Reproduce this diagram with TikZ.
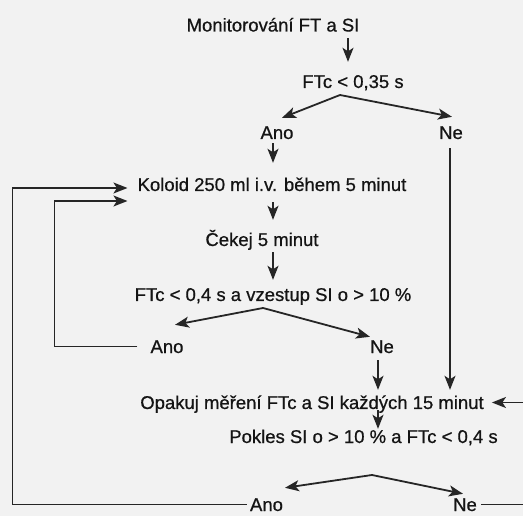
\documentclass[tikz,border=0pt]{standalone}
\usepackage{fontspec}
\setmainfont{Liberation Sans}
\newfontfamily\inkfont{Liberation Sans}[FakeBold=0.7]
\usetikzlibrary{arrows.meta, calc}
\definecolor{Ink}{HTML}{141414}
\definecolor{Wire}{HTML}{262626}
\definecolor{Paper}{HTML}{F2F2F2}

\begin{document}
\begin{tikzpicture}[
    x=1pt, y=-1pt,
    txt/.style={
        anchor=base, inner sep=0pt, text height=13pt, text depth=0pt,
        text=Ink, font=\inkfont\fontsize{18.5}{22}\selectfont
    },
    arr/.style={-{Stealth[length=14pt, width=11pt, inset=3.5pt]}, line width=1.8pt, draw=Wire}
]

% page
\useasboundingbox (0,0) rectangle (523,516);
\fill[Paper] (0,0) rectangle (523,516);
\clip (0,0) rectangle (523,516);

% =============================================
% Monitoring and first test
% =============================================
\node[txt] (mon) at (273,31.5) {Monitorování FT a SI};
\node[txt] (ftc1) at (353,88) {FTc < 0,35 s};
\node[txt] (ano1) at (277,139) {Ano};
\node[txt] (ne1) at (451,139) {Ne};

\draw[arr] ($(ftc1.north |- mon.south)+(-5,6.5)$) -- ($(ftc1.north)+(-5,-13)$);

\coordinate (split1) at ($(ftc1.base)+(-13,7)$);
\draw[arr] (split1) -- ($(ano1.north)+(5,-8)$);
\draw[arr] (split1) -- ($(ne1.north)+(1,-9)$);

% =============================================
% Colloid bolus and second test
% =============================================
\node[txt] (kol) at (272,191) {Koloid 250 ml i.v. během 5 minut};
\node[txt] (cek) at (262,246) {Čekej 5 minut};
\node[txt] (ftc2) at (273,301) {FTc < 0,4 s a vzestup SI o > 10 \%};
\node[txt] (ano2) at (167,353) {Ano};
\node[txt] (ne2) at (382,353) {Ne};

\draw[arr] ($(kol.north |- ano1.south)+(1,4)$) -- ($(kol.north)+(1,-15)$);
\draw[arr] ($(kol.south)+(1,11)$) -- ($(kol.south |- cek.north)+(1,-13)$);
\draw[arr] ($(ftc2.north |- cek.south)+(0,6)$) -- ($(ftc2.north)+(0,-8)$);

\coordinate (split2) at ($(ftc2.base)+(-10,7)$);
\draw[arr] (split2) -- ($(ano2.north)+(8,-15)$);
\draw[arr] (split2) -- ($(ne2.north)+(-12,-3)$);

% Ano -> back to colloid (inner loop)
\draw[arr] ($(ano2.west)+(-13,0)$) -| ($(kol.west)+(-83,16.5)$)
    -- ($(kol.west)+(-10,16.5)$);

% =============================================
% Repeated measurement and third test
% =============================================
\node[txt] (opak) at (312,409) {Opakuj měření FTc a SI každých 15 minut};
\node[txt] (pok) at (363.5,443) {Pokles SI o > 10 \% a FTc < 0,4 s};
\node[txt] (ano3) at (266.5,511) {Ano};
\node[txt] (ne3) at (465,511) {Ne};

\draw[arr] ($(ne1.south)+(-1,9)$) -- ($(ne1.south |- opak.north)+(-1,-6)$);
\draw[arr] ($(ne2.south)+(-4,7)$) -- ($(ne2.south |- opak.north)+(-4,-6)$);
\draw[arr] ($(opak.south -| ne2.south)+(-4,1)$) -- ($(pok.north -| ne2.north)+(-4,-1)$);

\coordinate (split3) at ($(pok.base)+(8.5,32)$);
\draw[arr] (split3) -- ($(ano3.north)+(18.5,-10)$);
\draw[arr] (split3) -- ($(ne3.north)+(-2,-4)$);

% Ano -> back to colloid (outer loop)
\draw[arr] ($(ano3.west)+(-3,0)$) -| ($(kol.west)+(-125,3.5)$)
    -- ($(kol.west)+(-10,3.5)$);

% Ne -> back to repeated measurement (runs off the right edge)
\draw[arr] ($(ne3.east)+(4,0)$) -| ($(opak.east)+(50,0)$)
    -- ($(opak.east)+(8,0)$);

\end{tikzpicture}
\end{document}
